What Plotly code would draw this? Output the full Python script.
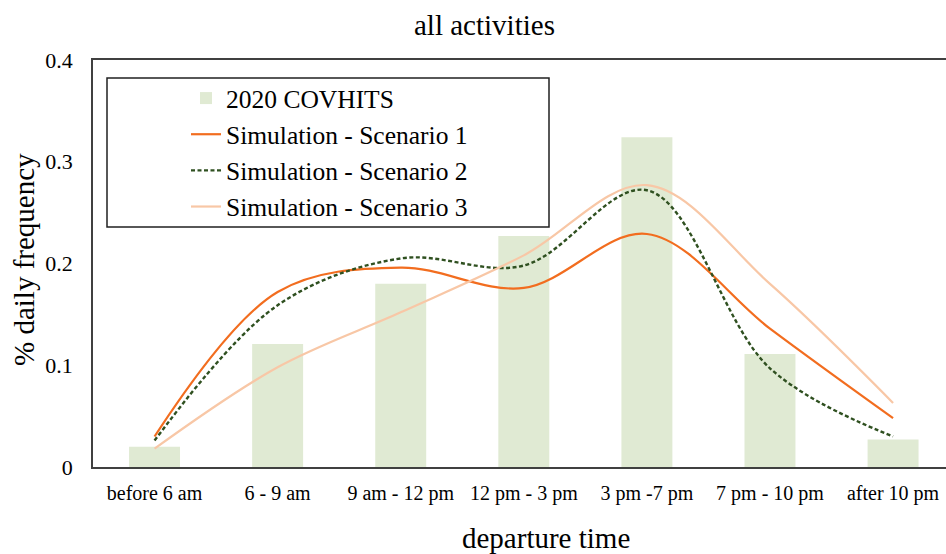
import plotly.graph_objects as go

categories = ["before 6 am", "6 - 9 am", "9 am - 12 pm", "12 pm - 3 pm",
              "3 pm -7 pm", "7 pm - 10 pm", "after 10 pm"]
covhits_2020 = [0.020, 0.121, 0.180, 0.227, 0.324, 0.111, 0.027]
scenario_1 = [0.030, 0.172, 0.196, 0.176, 0.229, 0.136, 0.048]
scenario_2 = [0.026, 0.159, 0.205, 0.198, 0.272, 0.097, 0.030]
scenario_3 = [0.018, 0.098, 0.152, 0.208, 0.277, 0.180, 0.063]
y_ticks = [0, 0.1, 0.2, 0.3, 0.4]
y_ticktext = ["0", "0.1", "0.2", "0.3", "0.4"]

W, H = 946, 554
L, R, T, B = 93, 0, 60, 87
FONT = "Liberation Serif, Times New Roman, serif"

fig = go.Figure()
fig.add_trace(go.Bar(x=categories, y=covhits_2020, name="2020 COVHITS",
                     marker=dict(color="#E0EAD3", line=dict(width=0)),
                     width=0.414, legendgroup="a"))
fig.add_trace(go.Scatter(x=categories, y=scenario_1, name="Simulation - Scenario 1",
                         mode="lines", line=dict(color="#F26D1F", width=2.2,
                                                 shape="spline", smoothing=1),
                         legendgroup="b"))
fig.add_trace(go.Scatter(x=categories, y=scenario_2, name="Simulation - Scenario 2",
                         mode="lines", line=dict(color="#2F5020", width=2.4, dash="4px,2.5px",
                                                 shape="spline", smoothing=1),
                         legendgroup="c"))
fig.add_trace(go.Scatter(x=categories, y=scenario_3, name="Simulation - Scenario 3",
                         mode="lines", line=dict(color="#F8C7A6", width=2.2,
                                                 shape="spline", smoothing=1),
                         legendgroup="d"))

pw = W - L - R
ph = H - T - B

def px_x(x):
    return (x - L) / pw

def px_y(y):
    return (H - B - y) / ph

fig.update_layout(
    width=W, height=H,
    margin=dict(l=L, r=R, t=T, b=B, pad=0),
    paper_bgcolor="white", plot_bgcolor="white",
    font=dict(family=FONT, color="#000000"),
    showlegend=True,
    legend=dict(x=px_x(186), y=px_y(75), xanchor="left", yanchor="top",
                font=dict(size=25.5, family=FONT), bgcolor="rgba(0,0,0,0)",
                borderwidth=0, traceorder="grouped", tracegroupgap=0),
    xaxis=dict(range=[-0.5, 6.43], showgrid=False, showline=True, mirror=True,
               linecolor="#404040", linewidth=1.5, ticks="", zeroline=False,
               tickfont=dict(size=20, family=FONT), ticklabelstandoff=7,
               fixedrange=True),
    yaxis=dict(range=[0, 0.4], tickvals=y_ticks, ticktext=y_ticktext,
               showgrid=False, showline=True, linecolor="#404040", linewidth=1.5,
               ticks="", zeroline=False, tickfont=dict(size=22, family=FONT),
               ticklabelstandoff=14, fixedrange=True),
    bargap=0.5,
    shapes=[dict(type="rect", xref="paper", yref="paper",
                 x0=px_x(107), x1=px_x(549), y0=px_y(227), y1=px_y(78),
                 line=dict(color="#202020", width=1.5), fillcolor="rgba(0,0,0,0)",
                 layer="above")],
    annotations=[
        dict(text="all activities", xref="paper", yref="paper",
             x=px_x(484), y=px_y(25), xanchor="center", yanchor="middle",
             showarrow=False, font=dict(size=29, family=FONT)),
        dict(text="departure time", xref="paper", yref="paper",
             x=px_x(546), y=px_y(538), xanchor="center", yanchor="middle",
             showarrow=False, font=dict(size=29, family=FONT)),
        dict(text="% daily frequency", xref="paper", yref="paper",
             x=px_x(24), y=px_y(260), xanchor="center", yanchor="middle",
             textangle=-90, showarrow=False, font=dict(size=29, family=FONT)),
    ],
)

fig.write_html("out.html", config={"displayModeBar": False},
               post_script="document.body.style.margin='0';")
